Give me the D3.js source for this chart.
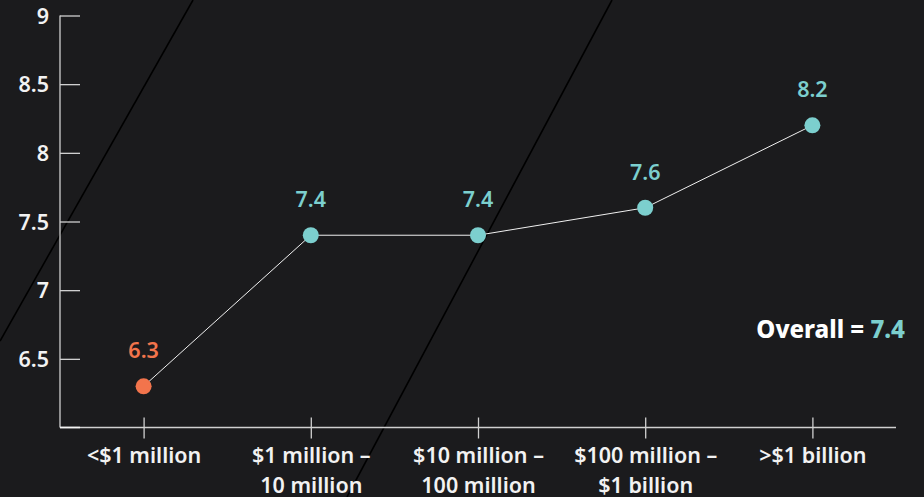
<!DOCTYPE html>
<html>
<head>
<meta charset="utf-8">
<script src="https://cdn.jsdelivr.net/npm/d3@7"></script>
<style>
  html, body { margin: 0; padding: 0; background: #1b1b1d; }
  svg { display: block; }
  text { font-family: "Noto Sans", "Open Sans", sans-serif; }
</style>
</head>
<body>
<svg id="chart" width="924" height="497"></svg>
<script>
// Revenue bands and their average scores
const categories = [
  ["<$1 million"],
  ["$1 million –", "10 million"],
  ["$10 million –", "100 million"],
  ["$100 million –", "$1 billion"],
  [">$1 billion"]
];
const scores = [6.3, 7.4, 7.4, 7.6, 8.2];
const yTicks = [6.5, 7, 7.5, 8, 8.5, 9];
const yDomain = [6, 9];
const overallScore = 7.4;

const W = 924, H = 497;
const margin = { left: 60, right: 28, top: 15.5, bottom: 69.5 };
const TEAL = "#7ccfce", ORANGE = "#f2744c", AXIS = "#d0d0d0";

const svg = d3.select("#chart");

svg.append("rect").attr("width", W).attr("height", H).attr("fill", "#1b1b1d");

// Decorative diagonal strokes across the background
const deco = svg.append("g").attr("stroke", "#000").attr("stroke-width", 1.6);
deco.append("line").attr("x1", 193).attr("y1", 0).attr("x2", 0).attr("y2", 341);
deco.append("line").attr("x1", 612).attr("y1", 0).attr("x2", 347).attr("y2", H);

const keys = categories.map((c, i) => i);
const x = d3.scalePoint().domain(keys).range([margin.left, W - margin.right]).padding(0.5);
const y = d3.scaleLinear().domain(yDomain).range([H - margin.bottom, margin.top]);

// Y axis: ticks pointing inward
const yAxis = svg.append("g")
  .attr("transform", `translate(${margin.left},0)`)
  .call(d3.axisLeft(y).tickValues(yTicks).tickSize(-20).tickFormat(d3.format("")));
yAxis.select(".domain").attr("stroke", AXIS).attr("stroke-width", 1.3)
  .attr("d", `M0,${y(yDomain[0])}V${y(yDomain[1])}`);
yAxis.selectAll(".tick line").attr("stroke", AXIS).attr("stroke-width", 1.3);
yAxis.selectAll(".tick text")
  .attr("fill", "#f2f2f2").attr("font-size", 21.5).attr("font-weight", 600)
  .attr("x", -11).attr("dy", "0.36em");

// X axis: ticks crossing the baseline
const xAxis = svg.append("g")
  .attr("transform", `translate(0,${y(yDomain[0])})`)
  .call(d3.axisBottom(x).tickSize(11).tickFormat(""));
xAxis.select(".domain").attr("stroke", AXIS).attr("stroke-width", 1.3)
  .attr("d", `M${margin.left},0H${W - margin.right}`);
xAxis.selectAll(".tick line").attr("stroke", AXIS).attr("stroke-width", 1.3).attr("y1", -10);
// bright stub at the origin
xAxis.append("line").attr("x1", margin.left).attr("x2", margin.left + 20)
  .attr("stroke", "#f4f4f4").attr("stroke-width", 1.6);

const xl = xAxis.selectAll(".tick").append("text")
  .attr("fill", "#f2f2f2").attr("font-size", 21.5).attr("font-weight", 600)
  .attr("text-anchor", "middle");
xl.each(function(d) {
  const t = d3.select(this);
  categories[d].forEach((line, i) => {
    t.append("tspan").attr("x", 0).attr("y", 35.5 + i * 30).text(line);
  });
});

// Connecting line
const line = d3.line().x((d, i) => x(i)).y(d => y(d));
svg.append("path").datum(scores)
  .attr("d", line).attr("fill", "none").attr("stroke", "#f0f0f0").attr("stroke-width", 1);

const minScore = d3.min(scores);
const colorOf = v => v === minScore ? ORANGE : TEAL;

svg.append("g").selectAll("circle").data(scores).join("circle")
  .attr("cx", (d, i) => x(i)).attr("cy", d => y(d)).attr("r", 8)
  .attr("fill", colorOf);

svg.append("g").selectAll("text").data(scores).join("text")
  .attr("x", (d, i) => x(i)).attr("y", d => y(d) - 28)
  .attr("text-anchor", "middle")
  .attr("font-size", 21.5).attr("font-weight", 600)
  .attr("fill", colorOf)
  .text(d => d3.format(".1f")(d));

// Overall annotation
const ov = svg.append("text")
  .attr("x", W - 19).attr("y", 338).attr("text-anchor", "end")
  .attr("font-size", 24).attr("font-weight", 800);
ov.append("tspan").attr("fill", "#ffffff").text("Overall = ");
ov.append("tspan").attr("fill", TEAL).text(d3.format(".1f")(overallScore));
</script>
</body>
</html>
